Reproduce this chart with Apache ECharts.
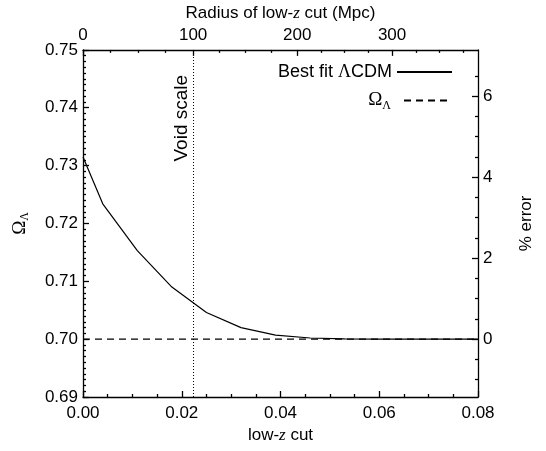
<!DOCTYPE html>
<html>
<head>
<meta charset="utf-8">
<script src="https://cdn.jsdelivr.net/npm/echarts@6/dist/echarts.min.js"></script>
<style>html,body{margin:0;padding:0;background:#fff}#c{width:546px;height:451px}</style>
</head>
<body>
<div id="c"></div>
<script>
// ---- data ----
const zCut = [0, 0.004, 0.011, 0.018, 0.025, 0.032, 0.039, 0.046, 0.053, 0.060, 0.070, 0.080];
const omegaFit = [0.7315, 0.7234, 0.7153, 0.7090, 0.7046, 0.7020, 0.7007, 0.7002, 0.70005, 0.7000, 0.7000, 0.7000];
const omegaTrue = 0.70;
const zVoid = 0.0223;
const radiusMajor = [0, 100, 200, 300];
const radiusMajorZ = [0, 0.0223, 0.0434, 0.0626];
const radiusMinorZ = [0.0056, 0.0112, 0.0167, 0.0276, 0.0329, 0.0381, 0.0482, 0.0530, 0.0578, 0.0674, 0.0722, 0.0770];
const errorMajor = [0, 2, 4, 6];
const errorMinor = [-1, -0.5, 0.5, 1, 1.5, 2.5, 3, 3.5, 4.5, 5, 5.5, 6.5];
const xMin = 0, xMax = 0.08, yMin = 0.69, yMax = 0.75;

const FONT = 'Liberation Sans';
const ink = '#000';
const errMin = (yMin - omegaTrue) / omegaTrue * 100;
const errMax = (yMax - omegaTrue) / omegaTrue * 100;

const fitLine = zCut.map((z, i) => [z, omegaFit[i]]);
const trueLine = [[xMin, omegaTrue], [xMax, omegaTrue]];

const chart = echarts.init(document.getElementById('c'), null, {renderer: 'canvas'});
const mkLine = () => ({show: true, onZero: false, lineStyle: {color: ink, width: 1.3}});
const noLine = () => ({show: false, onZero: false});
const lbl = () => ({color: ink, fontFamily: FONT, fontSize: 17});
const nameStyle = () => ({color: ink, fontFamily: FONT, fontSize: 17,
  rich: {
    i: {fontFamily: 'Liberation Serif', fontStyle: 'italic', fontSize: 17, color: ink},
    o: {fontFamily: 'Liberation Serif', fontSize: 19, color: ink},
    s: {fontFamily: 'Liberation Serif', fontSize: 12, color: ink, padding: [10, 0, 0, 0]}
  }});
const hideSym = {color: 'rgba(0,0,0,0)', borderWidth: 0, opacity: 0};
const tick = (len, extra) => Object.assign({show: true, inside: true, length: len, lineStyle: {color: ink, width: 1.3}}, extra || {});
const minor = (n) => ({show: true, splitNumber: n, length: 3, lineStyle: {color: ink, width: 1.3}});

const option = {
  animation: false,
  backgroundColor: '#fff',
  grid: {left: 83, right: 68, top: 43, bottom: 54, containLabel: false},
  xAxis: [
    {type: 'value', position: 'bottom', min: xMin, max: xMax, interval: 0.02,
     axisLine: mkLine(), splitLine: {show: false},
     axisTick: tick(6), minorTick: minor(4),
     axisLabel: Object.assign({margin: 8, formatter: v => v.toFixed(2)}, lbl()),
     name: 'low-{i|z} cut', nameLocation: 'middle', nameGap: 30, nameTextStyle: nameStyle()},
    {type: 'value', position: 'top', min: xMin, max: xMax,
     axisLine: mkLine(), splitLine: {show: false},
     axisTick: tick(6, {customValues: radiusMajorZ}),
     axisLabel: Object.assign({margin: 6, customValues: radiusMajorZ,
       formatter: v => { let k = 0, d = 1e9; radiusMajorZ.forEach((z, i) => { if (Math.abs(z - v) < d) { d = Math.abs(z - v); k = i; } }); return String(radiusMajor[k]); }}, lbl()),
     name: 'Radius of low-{i|z} cut (Mpc)', nameLocation: 'middle', nameGap: 24, nameTextStyle: nameStyle()},
    {type: 'value', position: 'top', min: xMin, max: xMax,
     axisLine: noLine(), splitLine: {show: false},
     axisTick: tick(3, {customValues: radiusMinorZ}),
     axisLabel: {show: false}}
  ],
  yAxis: [
    {type: 'value', position: 'left', min: yMin, max: yMax, interval: 0.01,
     axisLine: mkLine(), splitLine: {show: false},
     axisTick: tick(6), minorTick: minor(10),
     axisLabel: Object.assign({margin: 5, formatter: v => v.toFixed(2)}, lbl()),
     name: '{o|Ω}{s|Λ}', nameLocation: 'middle', nameGap: 52, nameRotate: 90, nameTextStyle: nameStyle()},
    {type: 'value', position: 'right', min: errMin, max: errMax,
     axisLine: mkLine(), splitLine: {show: false},
     axisTick: tick(6, {customValues: errorMajor}),
     axisLabel: Object.assign({margin: 5, customValues: errorMajor, formatter: v => String(Math.round(v))}, lbl()),
     name: '% error', nameLocation: 'middle', nameGap: 40, nameRotate: 90, nameTextStyle: nameStyle()},
    {type: 'value', position: 'right', min: errMin, max: errMax,
     axisLine: noLine(), splitLine: {show: false},
     axisTick: tick(3, {customValues: errorMinor}),
     axisLabel: {show: false}}
  ],
  legend: [
    {data: ['Best fit ΛCDM'], right: 93, top: 63, orient: 'vertical', align: 'right',
     itemWidth: 55, itemHeight: 14, itemGap: 0, padding: 0, itemStyle: hideSym,
     textStyle: {color: ink, fontFamily: FONT, fontSize: 18,
       rich: {L: {fontFamily: 'Liberation Serif', fontSize: 18, color: ink}}},
     formatter: () => 'Best fit {L|Λ}CDM', selectedMode: false},
    {data: ['ΩΛ'], right: 93, top: 91, orient: 'vertical', align: 'right',
     itemWidth: 48, itemHeight: 14, itemGap: 0, padding: 0, itemStyle: hideSym,
     textStyle: {color: ink, fontFamily: FONT, fontSize: 18,
       rich: {o: {fontFamily: 'Liberation Serif', fontSize: 19, color: ink},
              s: {fontFamily: 'Liberation Serif', fontSize: 12, color: ink, padding: [10, 8, 0, 0]}}},
     formatter: () => '{o|Ω}{s|Λ}', selectedMode: false}
  ],
  series: [
    {name: 'Best fit ΛCDM', type: 'line', data: fitLine, xAxisIndex: 0, yAxisIndex: 0,
     symbol: 'none', lineStyle: {color: ink, width: 1.2}, itemStyle: {color: ink}},
    {name: 'ΩΛ', type: 'line', data: trueLine, xAxisIndex: 0, yAxisIndex: 0,
     symbol: 'none', lineStyle: {color: ink, width: 1.2, type: [7, 5]}, itemStyle: {color: ink}},
    {name: 'void', type: 'line', data: [], xAxisIndex: 0, yAxisIndex: 0, symbol: 'none',
     markLine: {silent: true, symbol: ['none', 'none'],
       lineStyle: {color: ink, width: 1, type: [1, 2]},
       label: {show: true, position: 'insideEndTop', distance: [25, 2], formatter: 'Void scale',
         color: ink, fontFamily: FONT, fontSize: 19},
       data: [[{coord: [zVoid, yMin]}, {coord: [zVoid, yMax]}]]}}
  ]
};
chart.setOption(option);
</script>
</body>
</html>
